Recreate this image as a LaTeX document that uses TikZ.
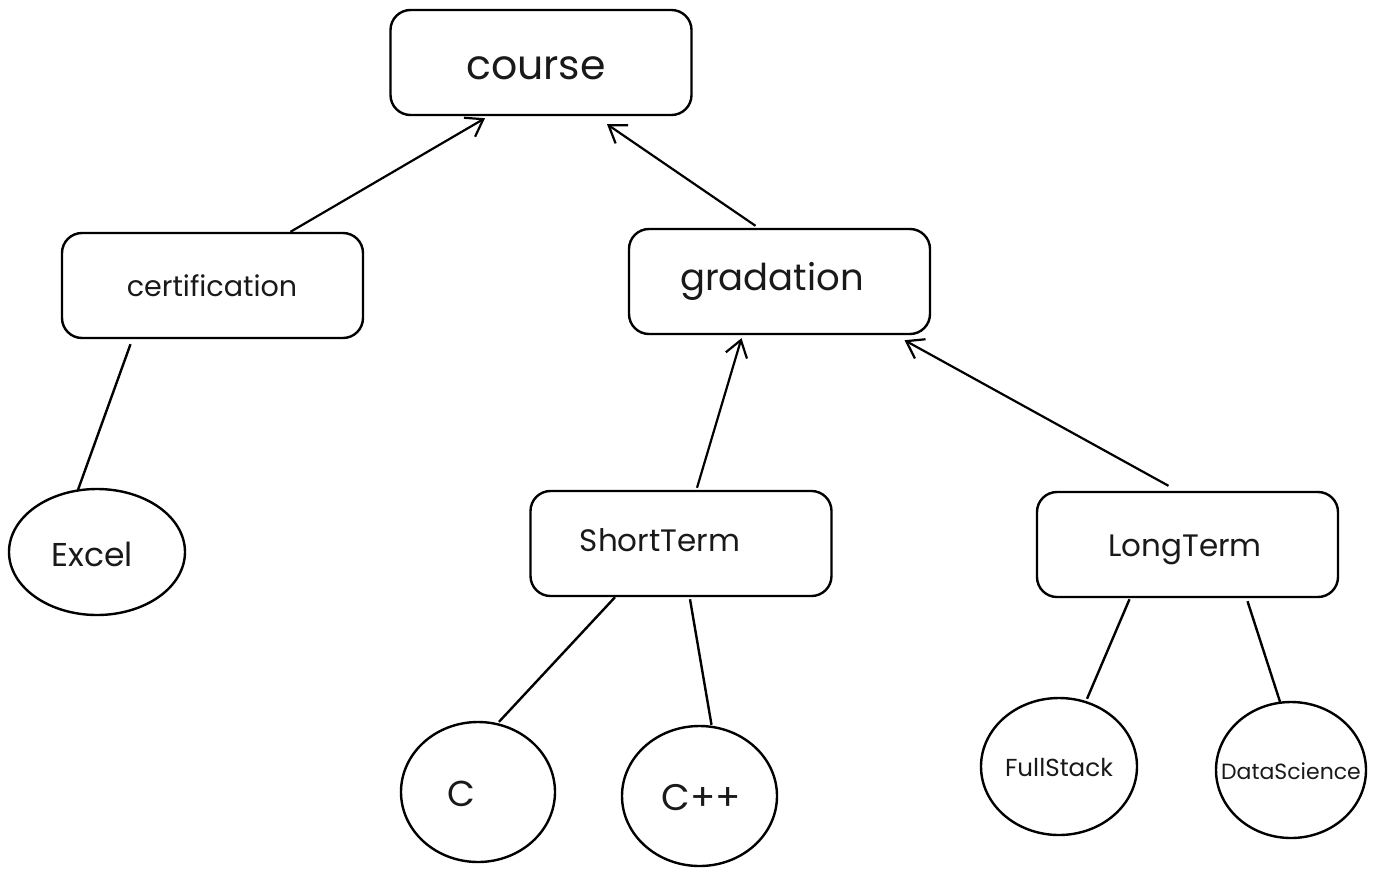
\documentclass[tikz,border=0pt]{standalone}
\usepackage{fontspec}
\setmainfont{Poppins}
\usetikzlibrary{shapes.geometric,arrows.meta,calc}
\begin{document}
\begin{tikzpicture}[x=0.5pt,y=-0.5pt,
  box/.style={draw, rounded corners=10pt, line width=1.2pt, minimum width=150.5pt, minimum height=52.5pt, inner sep=0pt},
  circ/.style={draw, ellipse, line width=1.2pt, inner sep=0pt},
  lbl/.style={inner sep=0pt, text=black!90},
  link/.style={line width=1.2pt},
  arr/.style={line width=1.1pt, -{Straight Barb[length=8pt,width=11pt]}}]
\useasboundingbox (0,0) rectangle (1381,873);
% boxes
\node[box] (course) at (541,62.5) {};
\node[box] (cert) at (212.5,285.5) {};
\node[box] (grad) at (779.5,281.5) {};
\node[box] (st) at (681,543.5) {};
\node[box] (lt) at (1187.5,544.5) {};
% ellipses
\node[circ, minimum width=88pt, minimum height=63pt] (excel) at (97,552) {};
\node[circ, minimum width=77pt, minimum height=70pt] (c) at (478,792) {};
\node[circ, minimum width=77.5pt, minimum height=70pt] (cpp) at (699.5,796) {};
\node[circ, minimum width=78pt, minimum height=68.5pt] (fs) at (1059,766.5) {};
\node[circ, minimum width=75pt, minimum height=68pt] (ds) at (1291,770) {};
% labels
\node[lbl, font=\fontsize{20.5}{24}\selectfont] (coursel) at (536,68) {course};
\node[lbl, font=\fontsize{14.3}{17}\selectfont] (certl) at (212,286) {certification};
\node[lbl, font=\fontsize{18.5}{22}\selectfont] (gradl) at (772,281) {gradation};
\node[lbl, font=\fontsize{15.5}{18}\selectfont] (stl) at (660,540) {ShortTerm};
\node[lbl, font=\fontsize{15.5}{18}\selectfont] (ltl) at (1185,550) {LongTerm};
\node[lbl, font=\fontsize{16.5}{19}\selectfont] (excell) at (92,554) {Excel};
\node[lbl, font=\fontsize{18}{21}\selectfont] (cl) at (461,794) {C};
\node[lbl, font=\fontsize{18.5}{21}\selectfont] (cppl) at (701,798) {C++};
\node[lbl, font=\fontsize{12.3}{15}\selectfont] (fsl) at (1059,767) {FullStack};
\node[lbl, font=\fontsize{11}{13}\selectfont] (dsl) at (1291,771) {DataScience};
% arrows
\draw[arr] ($(cert.north)+(78,0)$) -- ($(course.south)+(-56,2)$);
\draw[arr] ($(grad.north)+(-24,-2)$) -- ($(course.south)+(66,8)$);
\draw[arr] ($(st.north)+(16,-2)$) -- ($(grad.south)+(-38,3)$);
\draw[arr] ($(lt.north)+(-19,-5)$) -- ($(grad.south)+(125,5)$);
% plain links
\draw[link] ($(cert.south)+(-82,5)$) -- ($(excel.north)+(-19,2)$);
\draw[link] ($(st.south)+(-66,0)$) -- ($(c.north)+(21,1)$);
\draw[link] ($(st.south)+(9,2)$) -- ($(cpp.north)+(12,0)$);
\draw[link] ($(lt.south)+(-58,1)$) -- ($(fs.north)+(28,2)$);
\draw[link] ($(lt.south)+(60,3)$) -- ($(ds.north)+(-11,1)$);
\end{tikzpicture}
\end{document}
